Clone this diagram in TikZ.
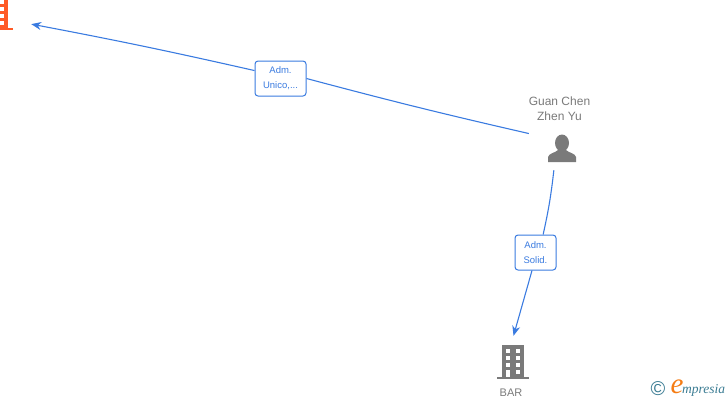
\documentclass[tikz,border=0pt]{standalone}
\usepackage{fontspec}
\setmainfont{Liberation Sans}
\newfontfamily\logofont{Liberation Serif}
\usetikzlibrary{arrows.meta,positioning}
\definecolor{linkblue}{HTML}{3A7BE0}
\definecolor{iconorange}{HTML}{FF5A26}
\definecolor{icongrey}{HTML}{7A7A7A}
\definecolor{logoteal}{HTML}{3B7C93}
\definecolor{logoorange}{HTML}{F57C14}

\begin{document}
\begin{tikzpicture}[x=1pt, y=-1pt,
  lbl/.style={draw=linkblue, fill=white, rounded corners=3pt, line width=1pt, inner sep=0pt, align=center, text=linkblue, font=\fontsize{9.5}{15}\selectfont, minimum height=35pt},
  arr/.style={-{Stealth[length=10pt, width=8pt]}, color=linkblue, line width=1.1pt},
  lnk/.style={color=linkblue, line width=1.1pt},
  nametxt/.style={text=icongrey, inner sep=0pt, align=center, font=\fontsize{12}{15}\selectfont},
  iconnode/.style={inner sep=0pt, minimum width=#1},
  buildingicon/.pic={
    \fill[pic actions] (-11,-17) rectangle (11,15);
    \fill[pic actions] (-16,15) rectangle (16,17);
    \foreach \row in {-13,-6,1} {
      \fill[white] (-7,\row) rectangle ++(4,4);
      \fill[white] (3,\row) rectangle ++(4,4);
    }
    \fill[white] (-7,7.5) rectangle (-3,14.5);
    \fill[white] (3,7.5) rectangle (7,11.5);
  },
  personicon/.pic={
    \fill[pic actions] (0,-6) ellipse (7 and 8.5);
    \fill[pic actions] (-14,13) -- (-14,8) .. controls (-13,4) and (-7,4) .. (-4,1) -- (4,1) .. controls (7,4) and (13,4) .. (14,8) -- (14,13) -- cycle;
  }]
\useasboundingbox (0,0) rectangle (728,400);
\clip (0,0) rectangle (728,400);
% icons and their names
\node[iconnode=54pt, minimum height=24pt] (org) at (4,12) {};
\pic[fill=iconorange] at (-3,13) {buildingicon};
\node[iconnode=66pt, minimum height=42pt] (guan) at (562,149) {};
\pic[fill=icongrey] at (562,149) {personicon};
\node[nametxt] (guanname) at (559.5,108.5) {Guan Chen\\Zhen Yu};
\node[iconnode=32pt, minimum height=52pt] (bar) at (513.5,362) {};
\pic[fill=icongrey] at (513,362) {buildingicon};
\node[nametxt, font=\fontsize{11}{13}\selectfont] (barname) at (511,392.5) {BAR};
% link labels
\node[lbl, minimum width=51pt] (adm1) at (280.5,78.5) {Adm.\\Unico,...};
\node[lbl, minimum width=41pt] (adm2) at (535.5,252.5) {Adm.\\Solid.};
% connectors
\draw[lnk] (guan.155) to[bend left=1] (adm1.east);
\draw[arr] (adm1.163) to[bend right=1] (org.-24);
\draw[lnk] (guan.249) to[bend left=3] (adm2.67);
\draw[arr] (adm2.259) -- (bar.north);
% logo
\node[inner sep=0pt, text=logoteal, font=\fontsize{20}{20}\selectfont] (copyr) at (658,389) {©};
\node[inner sep=0pt, text=logoorange, font=\fontsize{29}{29}\selectfont\logofont\itshape] (logoe) at (677,387) {e};
\node[inner sep=0pt, text=logoteal, font=\fontsize{13.5}{14}\selectfont\logofont\itshape, anchor=west] (logotext) at (682,390) {mpresia};
\end{tikzpicture}
\end{document}
